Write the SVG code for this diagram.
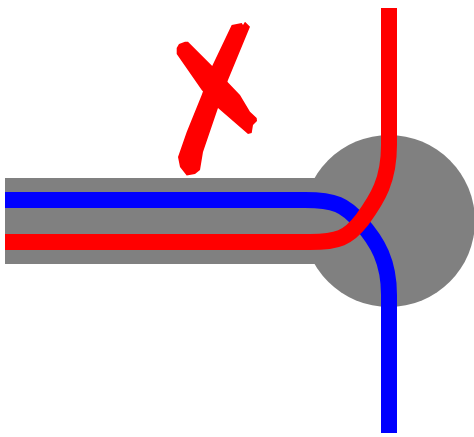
<svg xmlns="http://www.w3.org/2000/svg" width="474" height="437" viewBox="0 0 474 437">
<style>
.base{fill:#808080}
.line{fill:none;stroke-width:16;stroke-linecap:butt;stroke-linejoin:round}
.mark{fill:#ff0000}
</style>
<rect width="474" height="437" fill="#ffffff"/>
<g id="station">
<rect class="base" x="5" y="178" width="384" height="86"/>
<circle class="base" cx="389" cy="221" r="86"/>
</g>
<g id="lines">
<path class="line" stroke="#0000ff" d="M5 200 H305 C335 200 345 205 360 222 C378 242 389 262 389 295 V433"/>
<path class="line" stroke="#ff0000" d="M5 242 H310 C338 242 348 238 362 220 C378 198 389 180 389 145 V8"/>
</g>
<g id="cross-mark">
<polygon class="mark" points="176.7,48 179,44 185,41.7 188,41.7 213,66.7 240,95 250,111.7 256.7,118 257,121 253,125 251.7,133 248,134 218,108 201.7,90 176.7,54"/>
<polygon class="mark" points="231.7,25 241.7,23 243,25 245,21.7 250,26.7 228,80 218,108 203,152 200,170 195,174 186.7,175.5 180,167 178,157 186.7,132 201.7,95 211.7,67"/>
</g>
</svg>
